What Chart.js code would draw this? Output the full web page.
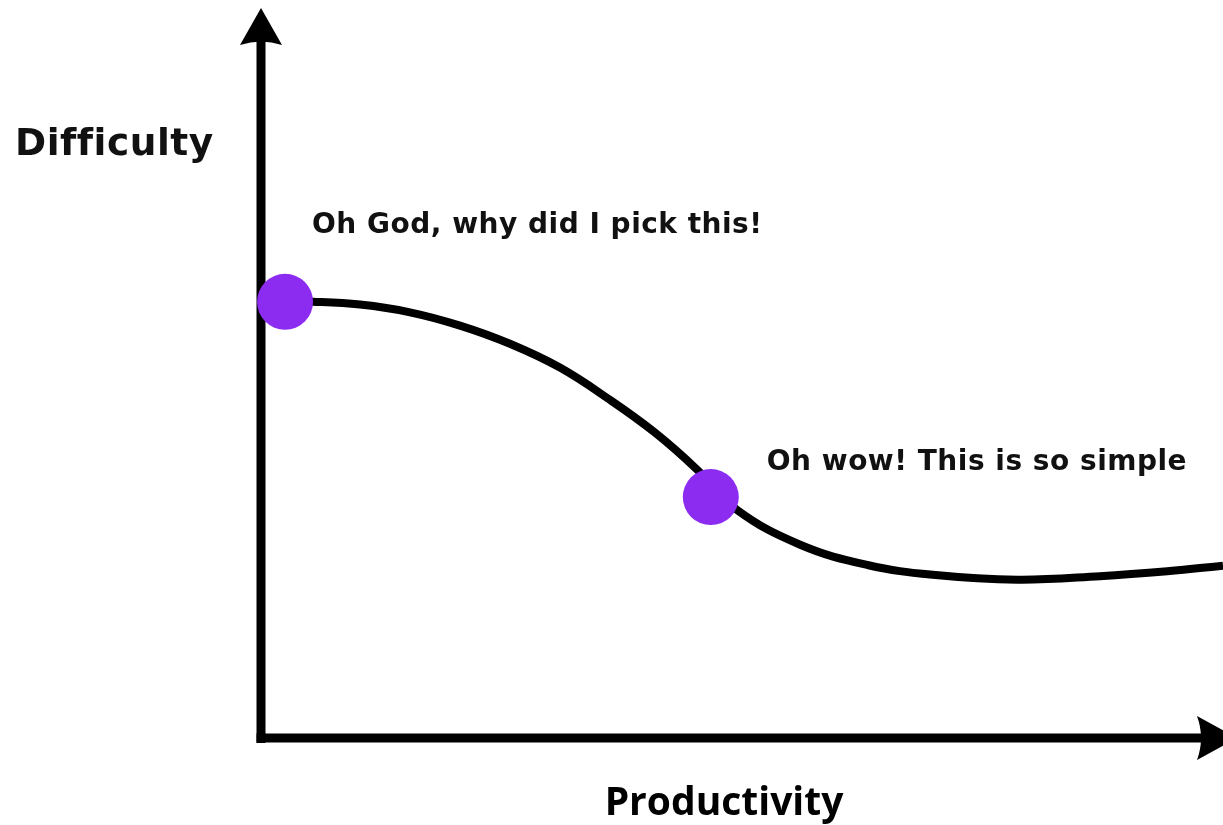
<!DOCTYPE html>
<html>
<head>
<meta charset="utf-8">
<script src="https://cdn.jsdelivr.net/npm/chart.js@4/dist/chart.umd.min.js"></script>
<style>
  html, body { margin: 0; padding: 0; background: #fff; }
  canvas { display: block; }
</style>
</head>
<body>
<canvas id="curveChart" width="1223" height="825"></canvas>
<script>
// Curva (x = produtividade, y = dificuldade, escala 0-100)
const curveX = [2.4, 5.3, 10.2, 15.4, 20.6, 25.8, 31.0, 36.2, 40.9, 45.3, 49.4, 56.0, 63.0, 69.8, 78.6, 87.2, 94.2, 100];
const curveY = [62.6, 62.6, 62.2, 61.1, 59.2, 56.6, 53.2, 48.6, 43.9, 38.6, 32.9, 27.9, 25.0, 23.6, 22.9, 23.4, 24.1, 24.9];

// Pontos destacados e respetivos textos
const markerX = [2.4, 46.7];
const markerY = [62.6, 34.7];
const markerLabels = ['Oh God, why did I pick this!', 'Oh wow! This is so simple'];

const xTitle = 'Productivity';
const yTitle = 'Difficulty';

const curveData = curveX.map((x, i) => ({ x: x, y: curveY[i] }));
const markerData = markerX.map((x, i) => ({ x: x, y: markerY[i] }));

// Eixos com setas + textos
const sketchPlugin = {
    id: 'sketch',
    beforeDatasetsDraw(chart) {
        const ctx = chart.ctx;
        const xs = chart.scales.x, ys = chart.scales.y;
        const x0 = xs.getPixelForValue(0) - 1;
        const y0 = ys.getPixelForValue(0) - 2;
        const yTop = ys.getPixelForValue(ys.max);
        const xEnd = xs.getPixelForValue(xs.max);
        ctx.save();
        ctx.strokeStyle = '#000';
        ctx.fillStyle = '#000';
        ctx.lineWidth = 9;
        ctx.lineCap = 'butt';
        // eixo Y
        ctx.beginPath();
        ctx.moveTo(x0, y0 + 5);
        ctx.lineTo(x0, yTop);
        ctx.stroke();
        ctx.beginPath();
        ctx.moveTo(x0, yTop - 32);
        ctx.lineTo(x0 + 21, yTop + 5);
        ctx.quadraticCurveTo(x0, yTop - 2, x0 - 21, yTop + 5);
        ctx.closePath();
        ctx.fill();
        // eixo X
        ctx.beginPath();
        ctx.moveTo(x0 - 4.5, y0);
        ctx.lineTo(xEnd - 20, y0);
        ctx.stroke();
        ctx.beginPath();
        ctx.moveTo(xEnd + 14, y0);
        ctx.lineTo(xEnd - 26, y0 - 22);
        ctx.quadraticCurveTo(xEnd - 18, y0, xEnd - 26, y0 + 22);
        ctx.closePath();
        ctx.fill();
        ctx.restore();
    },
    afterDraw(chart) {
        const ctx = chart.ctx;
        const xs = chart.scales.x, ys = chart.scales.y;
        ctx.save();
        ctx.fillStyle = '#111';
        ctx.textBaseline = 'alphabetic';
        ctx.textAlign = 'left';
        ctx.letterSpacing = '0.5px'; // sem ligaduras "ffi"
        ctx.font = 'bold 37.5px "DejaVu Sans"';
        ctx.fillText(yTitle, 15, 155);

        ctx.font = 'bold 28px "DejaVu Sans"';
        const p1x = xs.getPixelForValue(markerX[0]), p1y = ys.getPixelForValue(markerY[0]);
        ctx.fillText(markerLabels[0], p1x + 27, p1y - 69);
        const p2x = xs.getPixelForValue(markerX[1]), p2y = ys.getPixelForValue(markerY[1]);
        ctx.fillText(markerLabels[1], p2x + 56, p2y - 27);

        ctx.letterSpacing = '0px';
        ctx.fillStyle = '#000';
        ctx.textAlign = 'center';
        ctx.font = 'bold 39px "Open Sans"';
        ctx.fillText(xTitle, 724, 815);
        ctx.restore();
    }
};

new Chart(document.getElementById('curveChart').getContext('2d'), {
    type: 'scatter',
    data: {
        datasets: [{
            label: 'markers',
            data: markerData,
            backgroundColor: '#8b2cf0',
            borderWidth: 0,
            pointRadius: 28,
            pointHoverRadius: 28,
            clip: false,
            order: 0
        }, {
            label: 'curve',
            type: 'line',
            data: curveData,
            borderColor: '#000',
            borderWidth: 8,
            borderJoinStyle: 'round',
            pointRadius: 0,
            fill: false,
            tension: 0.4,
            order: 1
        }]
    },
    plugins: [sketchPlugin],
    options: {
        responsive: false,
        animation: false,
        layout: { autoPadding: false, padding: { left: 262, top: 40, right: 0, bottom: 85 } },
        plugins: {
            legend: { display: false },
            tooltip: { enabled: false }
        },
        scales: {
            x: { type: 'linear', min: 0, max: 100, display: false },
            y: { type: 'linear', min: 0, max: 100, display: false }
        }
    }
});
</script>
</body>
</html>
